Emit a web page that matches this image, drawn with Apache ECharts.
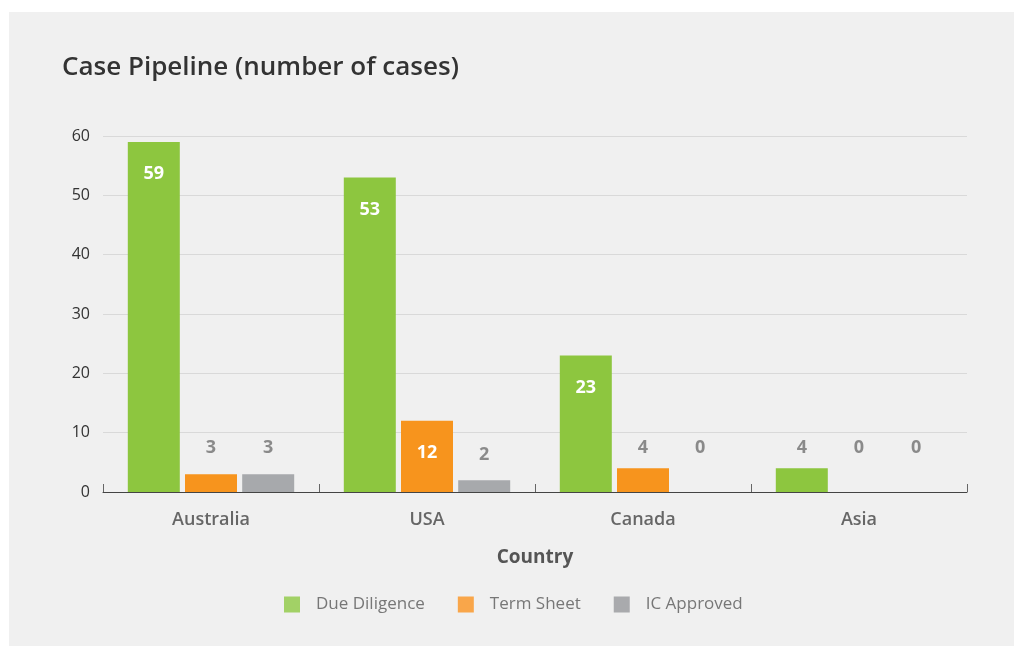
<!DOCTYPE html>
<html>
<head>
<meta charset="utf-8">
<script src="https://cdn.jsdelivr.net/npm/echarts@6/dist/echarts.min.js"></script>
<style>
  html, body { margin: 0; padding: 0; background: #ffffff; }
  #panel { position: absolute; left: 9px; top: 12px; width: 1005px; height: 634px; background: #f0f0f0; }
  #chart { position: absolute; left: 0; top: 0; width: 1014px; height: 646px; }
</style>
</head>
<body>
<div id="panel"></div>
<div id="chart"></div>
<script>
const categories = ['Australia', 'USA', 'Canada', 'Asia'];
const seriesNames = ['Due Diligence', 'Term Sheet', 'IC Approved'];
const dueDiligence = [59, 53, 23, 4];
const termSheet = [3, 12, 4, 0];
const icApproved = [3, 2, 0, 0];
const yTicks = [0, 10, 20, 30, 40, 50, 60];

const barColors = ['#8dc63f', '#f7941d', '#a7a9ac'];
const legendColors = ['#a2d166', '#f9a64a', '#a9aaad'];
// label distance for small values (style only)
const smallLabelDistance = { 0: 35, 2: 16, 3: 17, 4: 11 };

function buildData(values) {
  return values.map(v => {
    if (v >= 10) {
      return { value: v, label: { show: true, position: 'insideTop', distance: 23, color: '#ffffff' } };
    }
    return { value: v, label: { show: true, position: 'top', distance: smallLabelDistance[v] ?? 11, color: '#8a8a8a' } };
  });
}

const font = '"Open Sans", "Noto Sans", sans-serif';
const chart = echarts.init(document.getElementById('chart'), null, { renderer: 'canvas' });
const seriesValues = [dueDiligence, termSheet, icApproved];

chart.setOption({
  backgroundColor: 'transparent',
  animation: false,
  textStyle: { fontFamily: font },
  title: {
    text: 'Case Pipeline (number of cases)',
    left: 57, top: 50,
    textStyle: { fontFamily: font, fontSize: 26, fontWeight: 600, color: '#333333' }
  },
  legend: {
    bottom: 28,
    left: 279,
    itemWidth: 16, itemHeight: 16, itemGap: 33,
    icon: 'rect',
    textStyle: { fontFamily: font, fontSize: 17, color: '#777777', padding: [0, 0, 0, 11] },
    data: seriesNames.map((n, i) => ({ name: n, itemStyle: { color: legendColors[i] } }))
  },
  grid: { left: 103, right: 47, top: 136, bottom: 154, containLabel: false },
  xAxis: {
    type: 'category',
    data: categories,
    name: 'Country',
    nameLocation: 'middle',
    nameGap: 56,
    nameTextStyle: { fontFamily: font, fontSize: 19, fontWeight: 'bold', color: '#555555' },
    axisLine: { show: true, lineStyle: { color: '#444444', width: 1 } },
    axisTick: { show: true, inside: true, length: 8, lineStyle: { color: '#666666' } },
    axisLabel: { margin: 19, fontFamily: font, fontSize: 18, fontWeight: 600, color: '#666666' }
  },
  yAxis: {
    type: 'value',
    min: 0, max: 60, interval: 10,
    axisLine: { show: false },
    axisTick: { show: false },
    axisLabel: { margin: 13, fontFamily: font, fontSize: 16, color: '#333333',
      formatter: v => yTicks.includes(v) ? String(v) : '' },
    splitLine: { lineStyle: { color: '#d9d9d9', width: 1 } }
  },
  series: seriesNames.map((n, i) => ({
    name: n,
    type: 'bar',
    barWidth: 52,
    barGap: '10%',
    itemStyle: { color: barColors[i] },
    label: { show: true, fontFamily: font, fontSize: 18, fontWeight: 'bold' },
    data: buildData(seriesValues[i])
  }))
});
</script>
</body>
</html>
